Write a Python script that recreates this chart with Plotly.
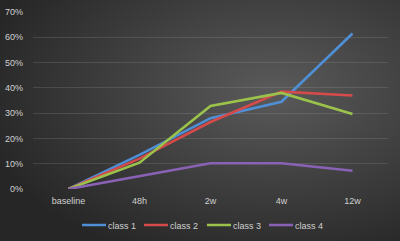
import base64
import plotly.graph_objects as go

categories = ["baseline", "48h", "2w", "4w", "12w"]
class_1 = [0.0, 0.135, 0.28, 0.345, 0.615]
class_2 = [0.0, 0.12, 0.265, 0.385, 0.37]
class_3 = [0.0, 0.104, 0.328, 0.38, 0.297]
class_4 = [0.0, 0.052, 0.102, 0.102, 0.072]
series_names = ["class 1", "class 2", "class 3", "class 4"]
series_colors = ["#4f8fd6", "#d54a4a", "#9bc34c", "#8a62b5"]
y_ticks = [0.0, 0.1, 0.2, 0.3, 0.4, 0.5, 0.6, 0.7]

W, H = 400, 241
ML, MR, MT, MB = 33, 12, 12, 52

svg = f'''<svg xmlns="http://www.w3.org/2000/svg" width="{W}" height="{H}" viewBox="0 0 {W} {H}">
<defs><radialGradient id="g" cx="0.68" cy="0.38" r="0.75" gradientUnits="objectBoundingBox">
<stop offset="0" stop-color="#5a5a5a"/><stop offset="1" stop-color="#262626"/></radialGradient></defs>
<rect width="{W}" height="{H}" fill="url(#g)"/></svg>'''
src = "data:image/svg+xml;base64," + base64.b64encode(svg.encode()).decode()

pw = W - ML - MR
ph = H - MT - MB

font = dict(family="Liberation Sans, Arial, sans-serif", size=9, color="#d0d0d0")
legend_left_px = [68, 130, 193, 255]

fig = go.Figure()
legends = {}
for i, (name, vals, col) in enumerate(zip(series_names, [class_1, class_2, class_3, class_4], series_colors)):
    key = "legend" if i == 0 else f"legend{i + 1}"
    fig.add_trace(go.Scatter(x=categories, y=vals, name=name, mode="lines",
                             line=dict(color=col, width=2.6), legend=key))
    legends[key] = dict(orientation="h", xref="container", yref="container",
                        x=legend_left_px[i] / W, xanchor="left",
                        y=1 - 225 / H, yanchor="middle", font=font,
                        bgcolor="rgba(0,0,0,0)", itemwidth=30, borderwidth=0)

fig.update_layout(
    width=W, height=H,
    margin=dict(l=ML, r=MR, t=MT, b=MB, autoexpand=False),
    paper_bgcolor="#333333",
    plot_bgcolor="rgba(0,0,0,0)",
    font=font,
    images=[dict(source=src, xref="paper", yref="paper",
                 x=-ML / pw, y=1 + MT / ph, sizex=W / pw, sizey=H / ph,
                 xanchor="left", yanchor="top", sizing="stretch", layer="below")],
    xaxis=dict(type="category", range=[-0.5, 4.5], showgrid=False, zeroline=False,
               showline=False, ticks="", ticklabelstandoff=5, tickfont=font,
               tickangle=0, automargin=False),
    yaxis=dict(range=[0, 0.7], tickvals=y_ticks, tickformat=".0%",
               gridcolor="rgba(200,200,200,0.16)", gridwidth=1, zeroline=False,
               showline=False, ticks="", ticklabelstandoff=9, tickfont=font,
               automargin=False),
    showlegend=True,
    **legends,
)

post = """
document.body.style.margin='0';
document.body.style.background='#262626';
var gd=document.getElementById('{plot_id}');
function fixLegend(){
  gd.querySelectorAll('.legendlines path').forEach(function(p){p.setAttribute('d','M14,0h24');});
}
fixLegend();
if (gd.on) { gd.on('plotly_afterplot', fixLegend); }
setTimeout(fixLegend, 30);
setTimeout(fixLegend, 300);
"""
fig.write_html("out.html", config={"displayModeBar": False}, post_script=post)
